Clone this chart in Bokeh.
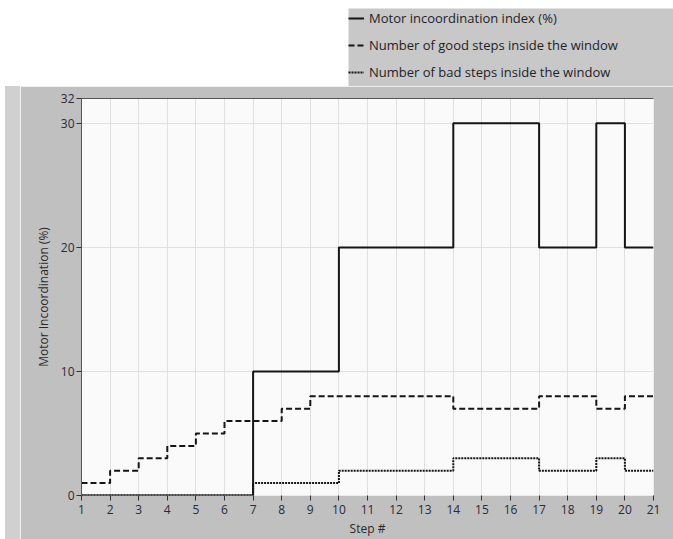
from bokeh.plotting import figure
from bokeh.models import (FixedTicker, Legend, LegendItem, LinearAxis, Range1d,
                          Spacer)
from bokeh.layouts import row, column
from bokeh.embed import file_html
from bokeh.resources import INLINE

# ---- data ----
steps = list(range(1, 22))
incoordination = [0, 0, 0, 0, 0, 0, 10, 10, 10, 20, 20, 20, 20, 30, 30, 30, 20, 20, 30, 20, 20]
good_steps = [1, 2, 3, 4, 5, 6, 6, 7, 8, 8, 8, 8, 8, 7, 7, 7, 8, 8, 7, 8, 8]
bad_steps = [0, 0, 0, 0, 0, 0, 1, 1, 1, 2, 2, 2, 2, 3, 3, 3, 2, 2, 3, 2, 2]
x_ticks = list(range(1, 22))
y_ticks = [0, 10, 20, 30, 32]
y_grid = [10, 20, 30]
series_labels = ["Motor incoordination index (%)",
                 "Number of good steps inside the window",
                 "Number of bad steps inside the window"]

FONT = "Open Sans"
PANEL = "#c0c0c0"
LINE = "#151515"
styles_inc = dict(line_color=LINE, line_width=2)
styles_good = dict(line_color=LINE, line_width=2, line_dash="6 3")
styles_bad = dict(line_color=LINE, line_width=2, line_dash="2 1")

# ---------------- main chart ----------------
p = figure(width=653, height=453, output_backend="svg", toolbar_location=None,
           x_range=Range1d(1, 21), y_range=Range1d(0, 32),
           min_border_left=61, min_border_right=20, min_border_top=12,
           min_border_bottom=44,
           border_fill_color=PANEL, background_fill_color="#fafafa",
           outline_line_color=None)

p.xaxis.ticker = FixedTicker(ticks=x_ticks)
p.yaxis.ticker = FixedTicker(ticks=y_ticks)
for ax in (p.xaxis[0], p.yaxis[0]):
    ax.major_tick_in = 0
    ax.major_tick_out = 5
    ax.minor_tick_line_color = None
    ax.major_tick_line_color = "#303030"
    ax.major_label_text_font = FONT
    ax.major_label_text_font_size = "12px"
    ax.major_label_text_color = "#2a2a3a"
    ax.axis_label_text_font = FONT
    ax.axis_label_text_font_size = "12px"
    ax.axis_label_text_font_style = "normal"
    ax.axis_label_text_color = "#2a2a2a"
p.xaxis.axis_line_color = None
p.yaxis.axis_line_color = "#555555"
p.xaxis.major_label_standoff = 4
p.yaxis.major_label_standoff = 2
p.xaxis.axis_label = "Step #"
p.yaxis.axis_label = "Motor Incoordination (%)"
p.xaxis.axis_label_standoff = 3
p.yaxis.axis_label_standoff = 6

top_axis = LinearAxis(ticker=FixedTicker(ticks=[]), axis_line_color="#555555",
                      major_tick_line_color=None, minor_tick_line_color=None,
                      major_tick_out=0, major_tick_in=0, major_label_standoff=0,
                      major_label_text_font_size="0px")
p.add_layout(top_axis, "above")

p.xgrid.ticker = FixedTicker(ticks=x_ticks)
p.ygrid.ticker = FixedTicker(ticks=y_grid)
p.xgrid.grid_line_color = "#e0e0e0"
p.ygrid.grid_line_color = "#e0e0e0"

p.step(steps, bad_steps, mode="after", **styles_bad)
p.step(steps, incoordination, mode="after", **styles_inc)
p.step(steps, good_steps, mode="after", **styles_good)

# ---------------- legend panel ----------------
# same series, drawn out of view, only so the legend can show their line styles
lf = figure(width=325, height=86, output_backend="svg", toolbar_location=None,
            x_axis_type=None, y_axis_type=None,
            x_range=Range1d(-3, -2), y_range=Range1d(-3, -2),
            min_border_left=0, min_border_right=0, min_border_top=8,
            min_border_bottom=0, border_fill_color="white",
            background_fill_color="#c8c8c8", outline_line_color=None)
l_inc = lf.step(steps, incoordination, mode="after", **styles_inc)
l_good = lf.step(steps, good_steps, mode="after", **styles_good)
l_bad = lf.step(steps, bad_steps, mode="after", **styles_bad)
legend = Legend(items=[LegendItem(label=series_labels[0], renderers=[l_inc]),
                       LegendItem(label=series_labels[1], renderers=[l_good]),
                       LegendItem(label=series_labels[2], renderers=[l_bad])],
                location="top_left", background_fill_alpha=0,
                border_line_color=None,
                label_text_font=FONT, label_text_font_size="13px",
                label_text_color="#1e1e28", glyph_width=16, glyph_height=20,
                label_height=20, label_standoff=5,
                spacing=7, padding=2, margin=0)
lf.add_layout(legend, "center")

page = column(
    row(Spacer(width=348, height=86), lf),
    row(Spacer(width=5, height=453),
        Spacer(width=15, height=453, styles={"background-color": "#d0d0d0"}),
        p),
)

open("out.html", "w").write(file_html(page, INLINE))
